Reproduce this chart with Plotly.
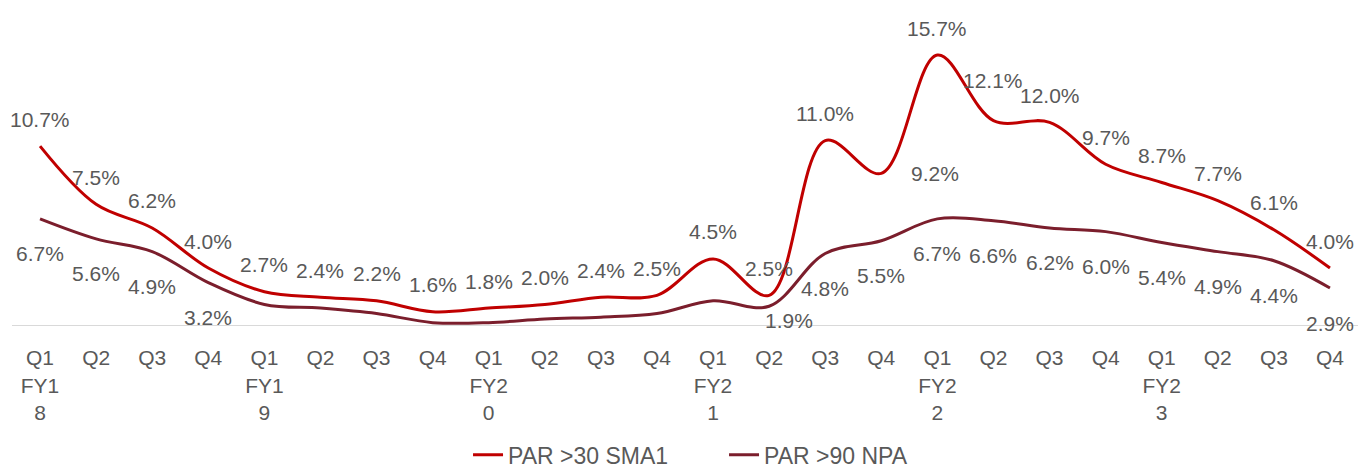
import plotly.graph_objects as go

# quarters Q1 FY18 .. Q4 FY23
periods = [f"Q{q} FY{y}" for y in range(18, 24) for q in range(1, 5)]
tick_labels = [
    "Q1<br>FY1<br>8", "Q2", "Q3", "Q4",
    "Q1<br>FY1<br>9", "Q2", "Q3", "Q4",
    "Q1<br>FY2<br>0", "Q2", "Q3", "Q4",
    "Q1<br>FY2<br>1", "Q2", "Q3", "Q4",
    "Q1<br>FY2<br>2", "Q2", "Q3", "Q4",
    "Q1<br>FY2<br>3", "Q2", "Q3", "Q4",
]

par30_sma1 = [10.7, 7.5, 6.2, 4.0, 2.7, 2.4, 2.2, 1.6, 1.8, 2.0, 2.4, 2.5,
              4.5, 2.5, 11.0, 9.2, 15.7, 12.1, 12.0, 9.7, 8.7, 7.7, 6.1, 4.0]
par90_npa = [6.7, 5.6, 4.9, 3.2, 2.0, 1.8, 1.5, 1.0, 1.0, 1.2, 1.3, 1.5,
             2.2, 1.9, 4.8, 5.5, 6.7, 6.6, 6.2, 6.0, 5.4, 4.9, 4.4, 2.9]
# NPA labels are hidden for Q1 FY19 .. Q1 FY21
npa_label_shown = [True] * 4 + [False] * 9 + [True] * 11

RED = "#C00000"
MAROON = "#7B1E2C"
GREY = "#595959"
FONT = "Liberation Sans, Arial, sans-serif"

fig = go.Figure()

fig.add_trace(go.Scatter(
    x=periods, y=par30_sma1,
    mode="lines",
    line=dict(color=RED, width=3, shape="spline", smoothing=1),
    name="PAR >30 SMA1",
))

fig.add_trace(go.Scatter(
    x=periods, y=par90_npa,
    mode="lines",
    line=dict(color=MAROON, width=3, shape="spline", smoothing=1),
    name="PAR >90 NPA",
))

# data labels; a few are nudged like in the source chart
sma_nudge = {"Q4 FY21": (54, -27), "Q2 FY22": (0, 13)}
npa_nudge = {"Q2 FY21": (20, 21)}

for p, v in zip(periods, par30_sma1):
    dx, dy = sma_nudge.get(p, (0, 0))
    fig.add_annotation(x=p, y=v, text=f"{v:.1f}%", showarrow=False,
                       xshift=dx, yshift=27 + dy,
                       font=dict(size=21, color=GREY, family=FONT))

for p, v, show in zip(periods, par90_npa, npa_label_shown):
    if not show:
        continue
    dx, dy = npa_nudge.get(p, (0, 0))
    fig.add_annotation(x=p, y=v, text=f"{v:.1f}%", showarrow=False,
                       xshift=dx, yshift=-35 + dy,
                       font=dict(size=21, color=GREY, family=FONT))

fig.update_layout(
    width=1359, height=468,
    margin=dict(l=12, r=1, t=5, b=143),
    plot_bgcolor="white",
    paper_bgcolor="white",
    font=dict(family=FONT, color=GREY, size=21),
    showlegend=True,
    legend=dict(
        orientation="h",
        x=0.529, xanchor="center",
        yref="container",
        y=0.028, yanchor="middle",
        entrywidth=211,
        font=dict(size=23, color=GREY),
    ),
    xaxis=dict(
        tickmode="array",
        tickvals=periods,
        ticktext=tick_labels,
        showline=True,
        linecolor="#D9D9D9",
        linewidth=1,
        showgrid=False,
        ticks="",
        ticklabelstandoff=14,
        tickfont=dict(size=21, color=GREY),
        range=[-0.5, 23.5],
    ),
    yaxis=dict(
        range=[0.87, 18.45],
        visible=False,
        showgrid=False,
        zeroline=False,
    ),
)

fig.write_html("out.html", config={"displayModeBar": False},
               post_script="document.body.style.margin='0';")
